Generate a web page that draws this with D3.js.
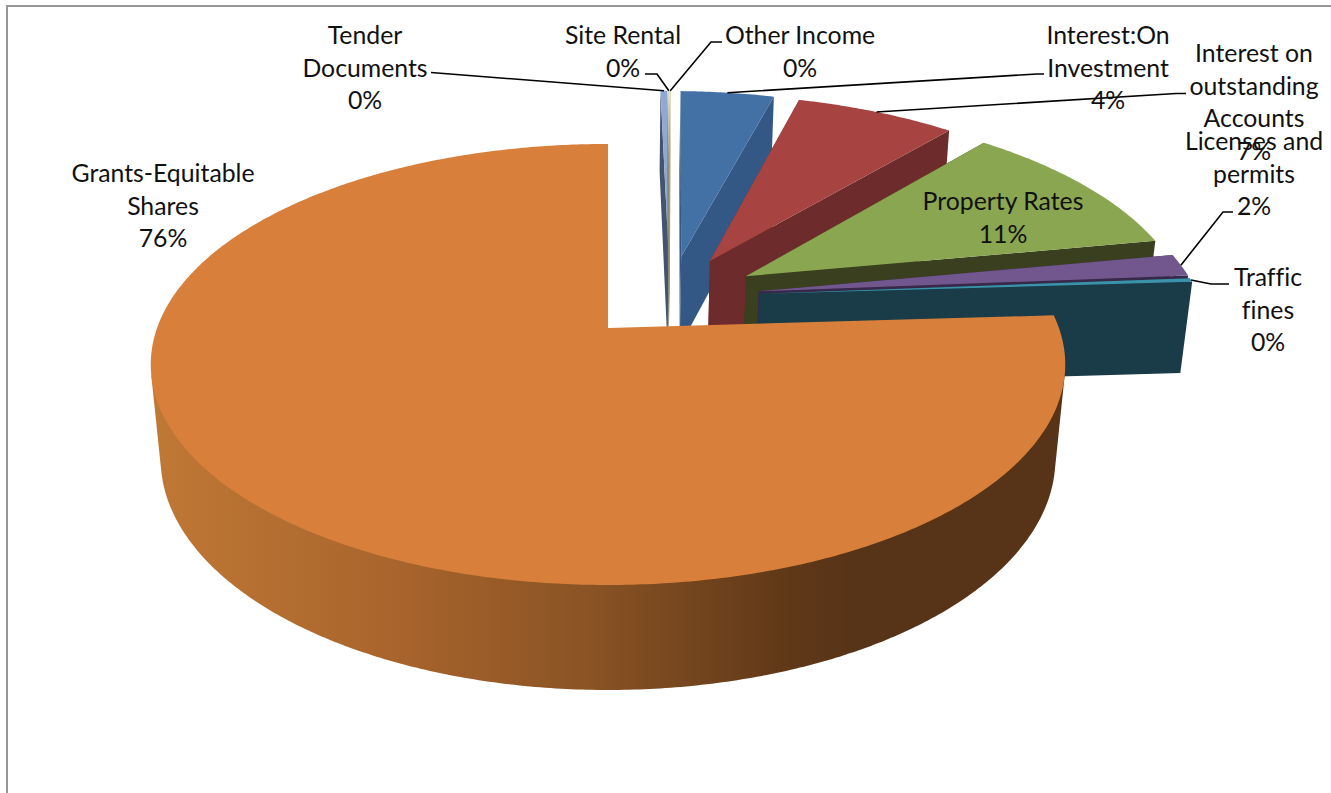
<!DOCTYPE html>
<html>
<head>
<meta charset="utf-8">
<script src="https://cdn.jsdelivr.net/npm/d3@7/dist/d3.min.js"></script>
<style>
  html, body { margin: 0; padding: 0; background: #fff; }
  svg { display: block; }
  text { font-family: Lato, "Noto Sans", sans-serif; font-size: 24.8px; fill: #111; text-anchor: middle; font-variant-ligatures: none; }
</style>
</head>
<body>
<svg id="chart" width="1331" height="793"></svg>
<script>
// Municipal revenue sources, percent of total, clockwise from twelve o'clock.
const categories = ["Tender Documents", "Site Rental", "Other Income", "Interest:On Investment",
  "Interest on outstanding Accounts", "Property Rates", "Licenses and permits", "Traffic fines",
  "Grants-Equitable Shares"];
const shares = [0.3, 0.05, 0.05, 4.05, 6.9, 10.7, 1.7, 0.3, 75.95];

// Wrapped label lines for each category.
const labelLines = [["Tender", "Documents"], ["Site Rental"], ["Other Income"], ["Interest:On", "Investment"],
  ["Interest on", "outstanding", "Accounts"], ["Property Rates"], ["Licenses and", "permits"], ["Traffic", "fines"],
  ["Grants-Equitable", "Shares"]];

// Slice colours: top face and cut faces.
const topColors = ["#8FA9D6", "#D9C4B4", "#D3DCA8", "#4371A6", "#A74441", "#8AA650", "#71578D", "#3A93AB", "#D8803B"];
const wallColors = ["#44546E", "#8A8078", "#8F9570", "#345886", "#6D2C2B", "#3A3F1F", "#38284A", "#1A3B48", "url(#wallShade)"];

// Label block centres (x, y of first line) and leader elbows.
const labelCenters = [[365, 35], [623, 35], [800, 35], [1108, 35], [1254, 53], [1003, 201], [1254, 141], [1268, 277], [163, 173]];
const leaderElbows = [
  [[431, 72.5]],
  [[657, 74], [645, 74]],
  [[711, 42], [722, 42]],
  [[1037, 74], [1044, 74]],
  [[1176, 93.5], [1186, 93.5]],
  null,
  [[1223, 212], [1233, 212]],
  [[1211, 284], [1229, 284]],
  null
];

// Perspective camera; the biggest slice's apex sits at the page origin below.
const origin = { x: 608, y: 328 };
const focal = 2399, camDist = 5.32, sinE = 0.4756, cosE = 0.88;
const depthOf = 0.2405;      // extrusion of the disc, in radii
const explosion = 0.205;     // every slice is pulled out by this share of the radius
const lineGap = 32.6;

function project(X, Y, Z) {
  const d = camDist + Y * cosE - Z * sinE;
  return [origin.x + focal * X / d, origin.y - focal * (Y * sinE + Z * cosE) / d];
}

const pie = d3.pie().sort(null).startAngle(0).endAngle(2 * Math.PI);
const arcs = pie(shares);
const mid = a => (a.startAngle + a.endAngle) / 2;
const largest = d3.greatest(arcs, a => a.value);

// Offset of each slice relative to the largest one.
arcs.forEach(a => {
  a.ox = explosion * (Math.sin(mid(a)) - Math.sin(mid(largest)));
  a.oy = explosion * (Math.cos(mid(a)) - Math.cos(mid(largest)));
});

const rimPoints = (a, z, from, to) => {
  const n = Math.max(2, Math.ceil(Math.abs(to - from) / 0.01));
  return d3.range(n + 1).map(i => {
    const t = from + (to - from) * i / n;
    return project(a.ox + Math.sin(t), a.oy + Math.cos(t), z);
  });
};

// Angular range of the round side that turns toward the camera.
const facing = Math.acos(-1 / (camDist * cosE));
const visibleRim = a => {
  const from = Math.max(a.startAngle, facing), to = Math.min(a.endAngle, 2 * Math.PI - facing);
  if (from >= to) return null;
  return d3.polygonHull([...rimPoints(a, 0, from, to), ...rimPoints(a, -depthOf, from, to)]);
};

const cutFace = (a, angle) => {
  const apexTop = project(a.ox, a.oy, 0), apexLow = project(a.ox, a.oy, -depthOf);
  const edge = z => project(a.ox + Math.sin(angle), a.oy + Math.cos(angle), z);
  return [apexTop, edge(0), edge(-depthOf), apexLow];
};

const path = d3.line();
const svg = d3.select("#chart");

// Shading of the round side, lit from the left.
const grad = svg.append("defs").append("linearGradient")
  .attr("id", "wallShade").attr("gradientUnits", "userSpaceOnUse")
  .attr("x1", 150).attr("x2", 1064).attr("y1", 0).attr("y2", 0);
[[0, "#C07835"], [0.27, "#A8642C"], [0.48, "#8A5324"], [0.7, "#5F3818"], [0.78, "#573317"], [1, "#573317"]]
  .forEach(([o, c]) => grad.append("stop").attr("offset", o).attr("stop-color", c));

// Chart area frame: only the top and left sides show.
svg.append("path").attr("d", path([[7, 793], [7, 6], [1331, 6]]))
  .attr("fill", "none").attr("stroke", "#979797").attr("stroke-width", 2);

// Slices in clockwise order: each one paints over the previous one's side.
const slices = svg.selectAll("g.slice").data(arcs).join("g").attr("class", "slice");

slices.filter(d => visibleRim(d)).append("path").attr("class", "rim")
  .attr("fill", d => wallColors[d.index])
  .attr("d", d => path(visibleRim(d)) + "Z");

slices.filter(d => d !== largest).append("path").attr("class", "cut")
  .attr("fill", d => wallColors[d.index])
  .attr("d", d => path(cutFace(d, d.startAngle)) + "Z");

slices.filter(d => d !== largest).append("path").attr("class", "cut")
  .attr("fill", d => wallColors[d.index])
  .attr("d", d => path(cutFace(d, d.endAngle)) + "Z");

slices.append("path").attr("class", "face")
  .attr("fill", d => topColors[d.index])
  .attr("d", d => path([project(d.ox, d.oy, 0), ...rimPoints(d, 0, d.startAngle, d.endAngle)]) + "Z");

// Leaders run from the rim's midpoint out to the label.
const leaders = arcs.map((a, i) => leaderElbows[i]
  ? [project(a.ox + Math.sin(mid(a)), a.oy + Math.cos(mid(a)), 0), ...leaderElbows[i]] : null);

svg.selectAll("path.leader").data(leaders.filter(Boolean)).join("path")
  .attr("class", "leader").attr("d", path)
  .attr("fill", "none").attr("stroke", "#000").attr("stroke-width", 1.6);

// Labels: wrapped name followed by the rounded percentage.
const pct = d3.format(".0f");
const labels = svg.selectAll("g.label").data(arcs).join("g").attr("class", "label")
  .attr("transform", (d, i) => `translate(${labelCenters[i][0]},${labelCenters[i][1]})`);

labels.selectAll("text")
  .data((d, i) => [...labelLines[i], pct(d.value) + "%"])
  .join("text")
  .attr("y", (d, i) => i * lineGap + 9)
  .text(d => d);
</script>
</body>
</html>
